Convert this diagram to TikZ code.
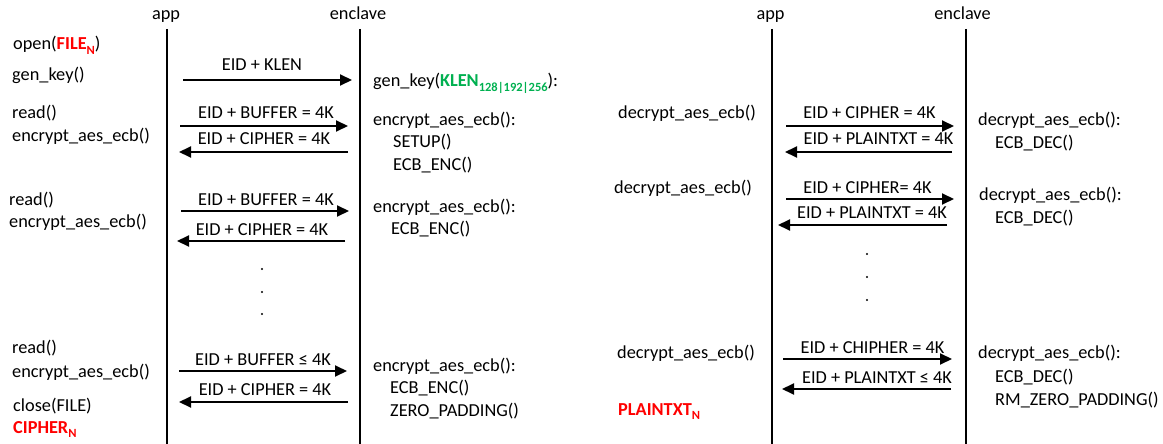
\documentclass[tikz,border=0pt]{standalone}
\usepackage{fontspec}
\setmainfont{Carlito}
\usetikzlibrary{arrows.meta}
\definecolor{hotred}{RGB}{255,0,0}
\definecolor{keygreen}{RGB}{0,176,80}
\newcommand{\lowsub}[1]{\raisebox{-0.25em}{\fontsize{12.5}{12.5}\selectfont #1}}
\begin{document}
\begin{tikzpicture}[x=1pt,y=-1pt,
  font=\fontsize{18.3}{22}\selectfont,
  txt/.style={anchor=base west, inner sep=0pt},
  lbl/.style={anchor=base, inner sep=0pt},
  redtxt/.style={txt, text=hotred, font=\fontsize{18.3}{22}\selectfont\bfseries},
  life/.style={line width=2pt},
  msg/.style={line width=2pt, -{Triangle[length=12pt,width=11pt]}},
  dotmark/.style={circle, fill, inner sep=0pt, minimum size=2.4pt}]
\useasboundingbox (0,0) rectangle (1163,444);

% ================= LEFT: encryption =================
\node[lbl] (appL) at (166,20) {app};
\node[lbl] (encL) at (358,20) {enclave};
\coordinate (appLtop) at (167,29);
\coordinate (appLbot) at (167,444);
\coordinate (encLtop) at (360,29);
\coordinate (encLbot) at (360,444);
\draw[life] (appLtop) -- (appLbot);
\draw[life] (encLtop) -- (encLbot);

% app-side texts
\node[txt] (open) at (13,50) {open(\textcolor{hotred}{\bfseries FILE\lowsub{N}})};
\node[txt] (genkeyA) at (12,81) {gen\_key()};
\node[txt] (readA) at (12,118) {read()};
\node[txt] (encA) at (12,141) {encrypt\_aes\_ecb()};
\node[txt] (readB) at (9,205) {read()};
\node[txt] (encB) at (9,227) {encrypt\_aes\_ecb()};
\node[txt] (readC) at (12,353) {read()};
\node[txt] (encC) at (12,377) {encrypt\_aes\_ecb()};
\node[txt] (close) at (13,411) {close(FILE)};
\node[redtxt] (cipherN) at (13,433) {CIPHER\lowsub{N}};

% enclave-side texts
\node[txt] (genkeyE) at (373,87) {gen\_key(\textcolor{keygreen}{\bfseries KLEN\lowsub{128|192|256}}):};
\node[txt] (encE1) at (373,125) {encrypt\_aes\_ecb():};
\node[txt] (setup) at (393,147) {SETUP()};
\node[txt] (ecbE1) at (393,170) {ECB\_ENC()};
\node[txt] (encE2) at (373,212) {encrypt\_aes\_ecb():};
\node[txt] (ecbE2) at (391,234) {ECB\_ENC()};
\node[txt] (encE3) at (373,371) {encrypt\_aes\_ecb():};
\node[txt] (ecbE3) at (390,393) {ECB\_ENC()};
\node[txt] (zpad) at (390,416) {ZERO\_PADDING()};

% messages
\coordinate (m1s) at (183,80);   \coordinate (m1e) at (352,80);
\coordinate (m2s) at (180,126);  \coordinate (m2e) at (348,126);
\coordinate (m3s) at (348,152);  \coordinate (m3e) at (179,152);
\coordinate (m4s) at (181,211);  \coordinate (m4e) at (349,211);
\coordinate (m5s) at (345,241);  \coordinate (m5e) at (177,241);
\coordinate (m6s) at (179,371);  \coordinate (m6e) at (347,371);
\coordinate (m7s) at (348,402);  \coordinate (m7e) at (179,402);
\draw[msg] (m1s) -- (m1e);
\draw[msg] (m2s) -- (m2e);
\draw[msg] (m3s) -- (m3e);
\draw[msg] (m4s) -- (m4e);
\draw[msg] (m5s) -- (m5e);
\draw[msg] (m6s) -- (m6e);
\draw[msg] (m7s) -- (m7e);
\node[lbl] (l1) at (262,71) {EID + KLEN};
\node[lbl] (l2) at (266,118) {EID + BUFFER = 4K};
\node[lbl] (l3) at (264,144) {EID + CIPHER = 4K};
\node[lbl] (l4) at (266,205) {EID + BUFFER = 4K};
\node[lbl] (l5) at (262,235) {EID + CIPHER = 4K};
\node[lbl] (l6) at (263,365) {EID + BUFFER ≤ 4K};
\node[lbl] (l7) at (265,395) {EID + CIPHER = 4K};

\node[dotmark] (dL1) at (262,269) {};
\node[dotmark] (dL2) at (262,292) {};
\node[dotmark] (dL3) at (262,314) {};

% ================= RIGHT: decryption =================
\node[lbl] (appR) at (770.5,20) {app};
\node[lbl] (encR) at (962.5,20) {enclave};
\coordinate (appRtop) at (772,29);
\coordinate (appRbot) at (772,444);
\coordinate (encRtop) at (966,29);
\coordinate (encRbot) at (966,444);
\draw[life] (appRtop) -- (appRbot);
\draw[life] (encRtop) -- (encRbot);

\node[txt] (decA) at (618,118) {decrypt\_aes\_ecb()};
\node[txt] (decB) at (614,193) {decrypt\_aes\_ecb()};
\node[txt] (decC) at (617,358) {decrypt\_aes\_ecb()};
\node[redtxt] (plainN) at (618,415) {PLAINTXT\lowsub{N}};

\node[txt] (decE1) at (978,125) {decrypt\_aes\_ecb():};
\node[txt] (ecbD1) at (995,148) {ECB\_DEC()};
\node[txt] (decE2) at (979,200) {decrypt\_aes\_ecb():};
\node[txt] (ecbD2) at (995,223) {ECB\_DEC()};
\node[txt] (decE3) at (978,358) {decrypt\_aes\_ecb():};
\node[txt] (ecbD3) at (995,382) {ECB\_DEC()};
\node[txt] (rmpad) at (995,405) {RM\_ZERO\_PADDING()};

\coordinate (n1s) at (786,126);  \coordinate (n1e) at (954,126);
\coordinate (n2s) at (952,152);  \coordinate (n2e) at (785,152);
\coordinate (n3s) at (786,199);  \coordinate (n3e) at (954,199);
\coordinate (n4s) at (947,225);  \coordinate (n4e) at (778,225);
\coordinate (n5s) at (783,359);  \coordinate (n5e) at (952,359);
\coordinate (n6s) at (951,389);  \coordinate (n6e) at (782,389);
\draw[msg] (n1s) -- (n1e);
\draw[msg] (n2s) -- (n2e);
\draw[msg] (n3s) -- (n3e);
\draw[msg] (n4s) -- (n4e);
\draw[msg] (n5s) -- (n5e);
\draw[msg] (n6s) -- (n6e);
\node[lbl] (k1) at (869.5,118) {EID + CIPHER = 4K};
\node[lbl] (k2) at (878.5,144) {EID + PLAINTXT = 4K};
\node[lbl] (k3) at (867.5,193) {EID + CIPHER= 4K};
\node[lbl] (k4) at (872,218) {EID + PLAINTXT = 4K};
\node[lbl] (k5) at (872.5,353) {EID + CHIPHER = 4K};
\node[lbl] (k6) at (877,383) {EID + PLAINTXT ≤ 4K};

\node[dotmark] (dR1) at (867,254) {};
\node[dotmark] (dR2) at (867,277) {};
\node[dotmark] (dR3) at (867,300) {};
\end{tikzpicture}
\end{document}
